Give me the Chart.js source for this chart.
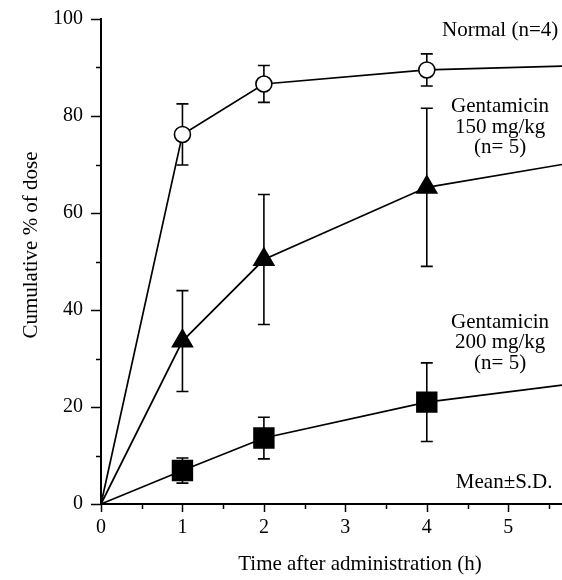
<!DOCTYPE html>
<html>
<head>
<meta charset="utf-8">
<script src="https://cdn.jsdelivr.net/npm/chart.js@4/dist/chart.umd.min.js"></script>
<style>
  html, body { margin: 0; padding: 0; background: #fff; }
  #wrap { width: 562px; height: 580px; }
</style>
</head>
<body>
<div id="wrap"><canvas id="c" width="562" height="580"></canvas></div>
<script>
// ---- data ----
const times = [0, 1, 2, 4];           // sampling times (h)
const tailTime = 5.66;                 // end of the fitted curve at the right edge
const xTickLabels = ['0', '1', '2', '3', '4', '5'];
const yTickLabels = ['0', '20', '40', '60', '80', '100'];

const normalMean = [0, 76.2, 86.6, 89.5];
const normalSD   = [0, 6.3, 3.8, 3.3];
const normalTail = 90.3;

const gent150Mean = [0, 33.6, 50.4, 65.3];
const gent150SD   = [0, 10.4, 13.4, 16.3];
const gent150Tail = 70.0;

const gent200Mean = [0, 6.9, 13.6, 21.0];
const gent200SD   = [0, 2.6, 4.3, 8.1];
const gent200Tail = 24.5;

const labelNormal  = ['Normal (n=4)'];
const label150     = ['Gentamicin', '150 mg/kg', '(n= 5)'];
const label200     = ['Gentamicin', '200 mg/kg', '(n= 5)'];
const labelMeanSD  = ['Mean\u00B1S.D.'];

// ---- build datasets ----
function pts(mean, tail) {
  const p = times.map((t, i) => ({ x: t, y: mean[i] }));
  p.push({ x: tailTime, y: tail });
  return p;
}
const series = [
  { mean: normalMean, sd: normalSD },
  { mean: gent150Mean, sd: gent150SD },
  { mean: gent200Mean, sd: gent200SD }
];
const FONT = "'Liberation Serif', 'Times New Roman', serif";

function markerRadius(r) {
  return ctx => (ctx.dataIndex === 0 || ctx.dataIndex === times.length) ? 0 : r;
}

const errorBars = {
  id: 'errorBars',
  beforeDatasetsDraw(chart) {
    const { ctx, scales: { x, y } } = chart;
    ctx.save();
    ctx.strokeStyle = '#000';
    ctx.lineWidth = 1.6;
    series.forEach(s => {
      s.mean.forEach((m, i) => {
        if (!s.sd[i]) return;
        const px = x.getPixelForValue(times[i]);
        const top = y.getPixelForValue(m + s.sd[i]);
        const bot = y.getPixelForValue(m - s.sd[i]);
        ctx.beginPath();
        ctx.moveTo(px, top); ctx.lineTo(px, bot);
        ctx.moveTo(px - 6, top); ctx.lineTo(px + 6, top);
        ctx.moveTo(px - 6, bot); ctx.lineTo(px + 6, bot);
        ctx.stroke();
      });
    });
    ctx.restore();
  }
};

const decorations = {
  id: 'decorations',
  afterDraw(chart) {
    const { ctx, scales: { x, y }, chartArea } = chart;
    ctx.save();
    ctx.strokeStyle = '#000';
    ctx.lineWidth = 1.5;
    // y ticks (outside, left)
    for (let v = 0; v <= 100; v += 10) {
      const py = Math.round(y.getPixelForValue(v)) + 0.5;
      const len = (v % 20 === 0) ? 10 : 5;
      ctx.beginPath();
      ctx.moveTo(chartArea.left, py); ctx.lineTo(chartArea.left - len, py);
      ctx.stroke();
    }
    // x ticks (outside, below)
    for (let v = 0; v <= 5.5; v += 0.5) {
      const px = Math.round(x.getPixelForValue(v)) + 0.5;
      const len = (v % 1 === 0) ? 8 : 5;
      ctx.beginPath();
      ctx.moveTo(px, chartArea.bottom); ctx.lineTo(px, chartArea.bottom + len);
      ctx.stroke();
    }
    // axis titles
    ctx.fillStyle = '#000';
    ctx.font = '21px ' + FONT;
    ctx.textAlign = 'center';
    ctx.textBaseline = 'middle';
    ctx.fillText('Time after administration (h)', 360, 564);
    ctx.save();
    ctx.translate(31, 245);
    ctx.rotate(-Math.PI / 2);
    ctx.fillText('Cumulative % of dose', 0, 0);
    ctx.restore();
    // annotations
    ctx.font = '21px ' + FONT;
    const block = (lines, xv, yv, gap) => {
      const px = x.getPixelForValue(xv);
      lines.forEach((t, i) => ctx.fillText(t, px, y.getPixelForValue(yv) + i * gap));
    };
    block(labelNormal, 4.90, 97.7, 20.5);
    block(label150, 4.90, 81.9, 20.5);
    block(label200, 4.90, 37.5, 20.5);
    block(labelMeanSD, 4.95, 4.5, 20.5);
    ctx.restore();
  }
};

const ds = (data, style, r, fill) => ({
  data,
  borderColor: '#000',
  borderWidth: 1.7,
  tension: 0,
  pointStyle: style,
  pointRadius: markerRadius(r),
  pointHoverRadius: markerRadius(r),
  pointBackgroundColor: fill,
  pointBorderColor: '#000',
  pointBorderWidth: 1.6,
  clip: false
});

new Chart(document.getElementById('c'), {
  type: 'scatter',
  data: {
    datasets: [
      Object.assign(ds(pts(normalMean, normalTail), 'circle', 8, '#fff'), { showLine: true, label: 'Normal' }),
      Object.assign(ds(pts(gent150Mean, gent150Tail), 'triangle', 11.5, '#000'), { showLine: true, label: 'Gentamicin 150 mg/kg' }),
      Object.assign(ds(pts(gent200Mean, gent200Tail), 'rect', 14, '#000'), { showLine: true, label: 'Gentamicin 200 mg/kg' })
    ]
  },
  options: {
    responsive: false,
    animation: false,
    events: [],
    layout: { padding: { top: 19, right: 0, left: 0, bottom: 0 } },
    plugins: { legend: { display: false }, tooltip: { enabled: false } },
    scales: {
      x: {
        type: 'linear',
        min: 0,
        max: tailTime,
        afterFit: s => { s.height = 76; s.paddingLeft = 0; s.paddingRight = 0; },
        grid: { display: true, drawOnChartArea: false, drawTicks: false },
        border: { display: true, color: '#000', width: 2 },
        ticks: {
          stepSize: 1,
          includeBounds: false,
          padding: 12,
          color: '#000',
          font: { family: FONT, size: 20 },
          callback: (v) => xTickLabels[Math.round(v)] ?? ''
        }
      },
      y: {
        type: 'linear',
        min: 0,
        max: 100,
        afterFit: s => { s.width = 101; s.paddingTop = 0; s.paddingBottom = 0; },
        grid: { display: true, drawOnChartArea: false, drawTicks: false },
        border: { display: true, color: '#000', width: 2 },
        ticks: {
          stepSize: 20,
          padding: 18,
          color: '#000',
          font: { family: FONT, size: 20 },
          callback: (v) => yTickLabels[Math.round(v / 20)] ?? ''
        }
      }
    }
  },
  plugins: [errorBars, decorations]
});
</script>
</body>
</html>
